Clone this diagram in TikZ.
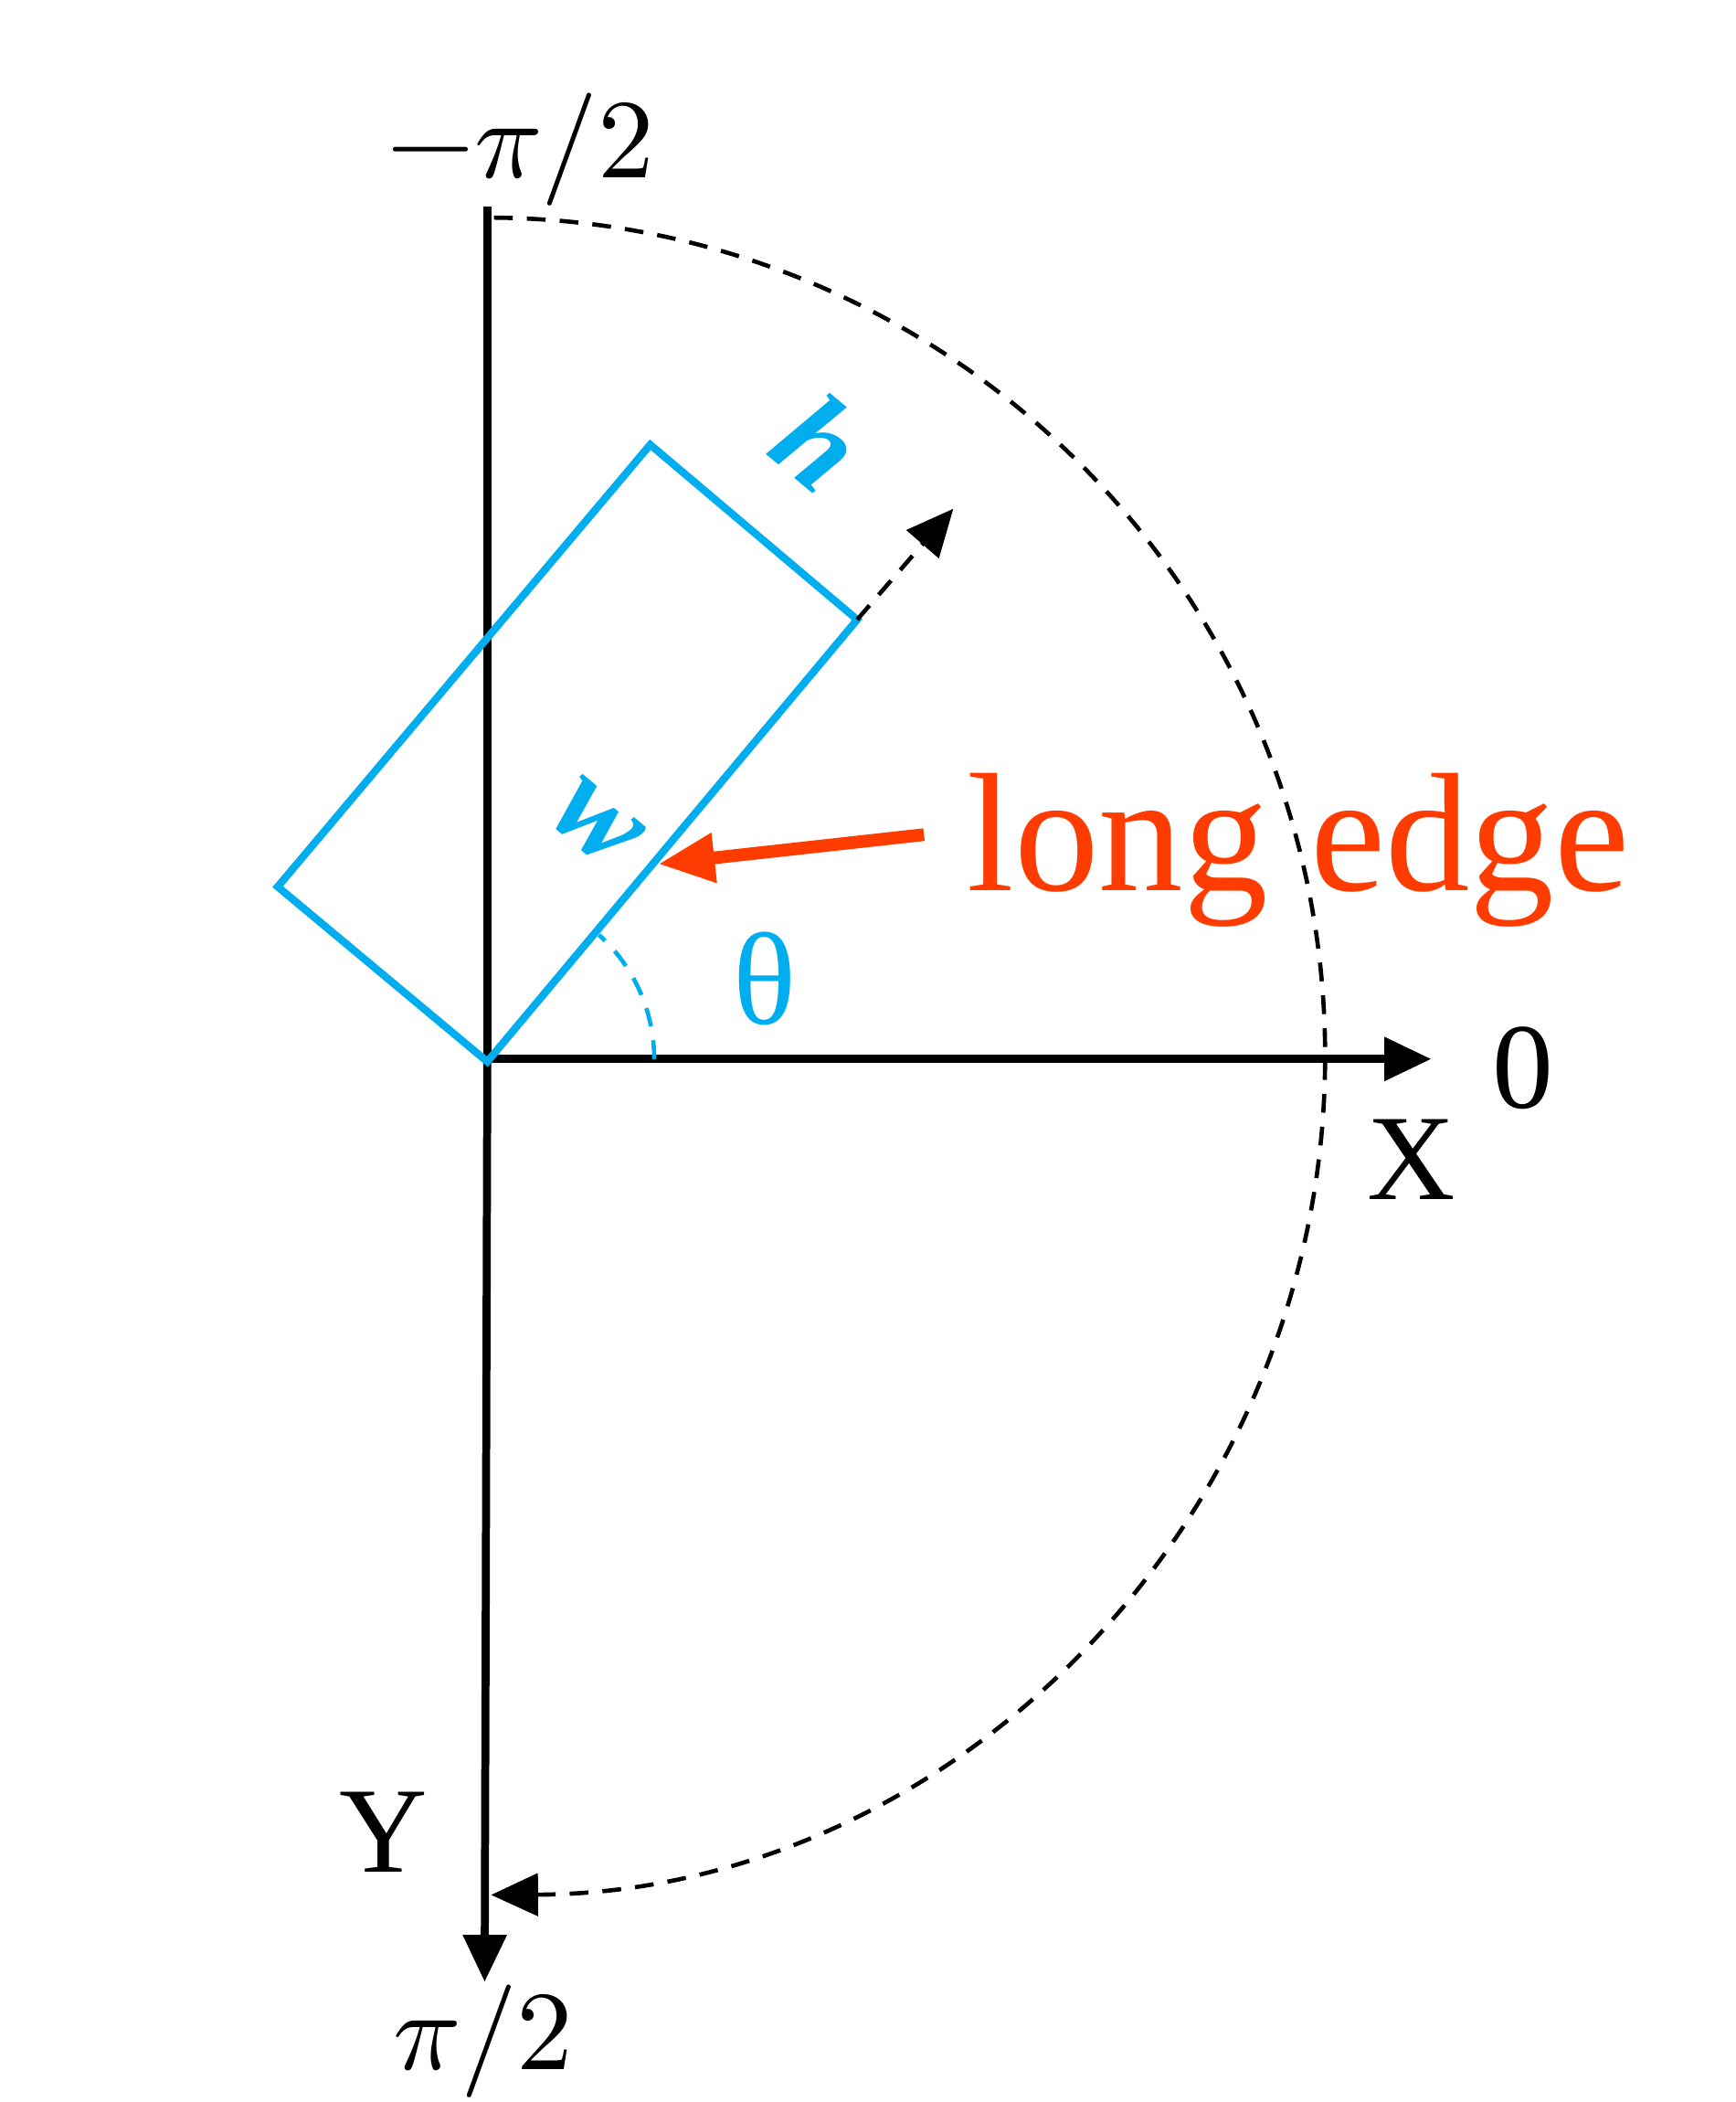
\documentclass[tikz,border=0pt]{standalone}
\usepackage{fontspec}
\usepackage{unicode-math}
\setmainfont{Liberation Serif}
\usetikzlibrary{arrows.meta}
\definecolor{cy}{RGB}{0,174,239}
\definecolor{rd}{RGB}{255,60,0}
\begin{document}
\begin{tikzpicture}[x=0.01cm,y=-0.01cm,
  tip/.style={-{Triangle[length=10pt,width=9pt]}},
  axis/.style={line width=1.7pt,tip},
  lbl/.style={font=\fontsize{24}{26}\selectfont,inner sep=0pt},
  dsh/.style={line width=0.9pt,dash pattern=on 4pt off 3pt}]
\useasboundingbox (0,0) rectangle (1300,1574);
\coordinate (O) at (365,793);
\coordinate (Yt) at (365,155);
\coordinate (Yb) at (363,1484);
\coordinate (Xe) at (1072,793);
\draw[line width=1.7pt] (Yt) -- (O);
\draw[axis] (O) -- (Yb);
\draw[axis] (O) -- (Xe);
% big dashed arc
\draw[dsh,tip] (370,163) arc[start angle=-89.5,end angle=89.7,radius=628];
% rectangle
\coordinate (A) at (365,795);
\coordinate (B) at (208,664);
\coordinate (C) at (487,333);
\coordinate (D) at (642,464);
\draw[cy,line width=1.6pt] (A) -- (B) -- (C) -- (D) -- cycle;
\coordinate (Dt) at (714,381);
\draw[dsh,tip] (D) -- (Dt);
% theta arc
\draw[cy,dsh] (490,793) arc[start angle=0,end angle=-48,radius=125];
% red arrow
\coordinate (R1) at (692,625);
\coordinate (R2) at (493,647);
\draw[rd,line width=2.7pt,-{Triangle[length=12pt,width=10pt]}] (R1) -- (R2);
% labels
\node[lbl,anchor=base] (mp) at (390,133) {$-\pi/2$};
\node[lbl,anchor=base] (pp) at (362,1550) {$\pi/2$};
\node[lbl,anchor=base,font=\fontsize{26}{28}\selectfont] (z) at (1141,830) {0};
\node[lbl,anchor=base,font=\fontsize{26}{28}\selectfont] (X) at (1057,898) {X};
\node[lbl,anchor=base,font=\fontsize{26}{28}\selectfont] (Y) at (287,1402) {Y};
\node[lbl,anchor=base,text=cy,font=\fontsize{28}{30}\selectfont] (th) at (573,767) {θ};
\node[lbl,anchor=base west,text=rd,font=\fontsize{36}{38}\selectfont] (le) at (724,667) {long edge};
\node[lbl,text=cy,rotate=-40,font=\fontsize{27}{29}\selectfont\bfseries\itshape] (h) at (614,331) {h};
\node[lbl,text=cy,rotate=-40,font=\fontsize{27}{29}\selectfont\bfseries\itshape] (w) at (446,617) {w};
\end{tikzpicture}
\end{document}
